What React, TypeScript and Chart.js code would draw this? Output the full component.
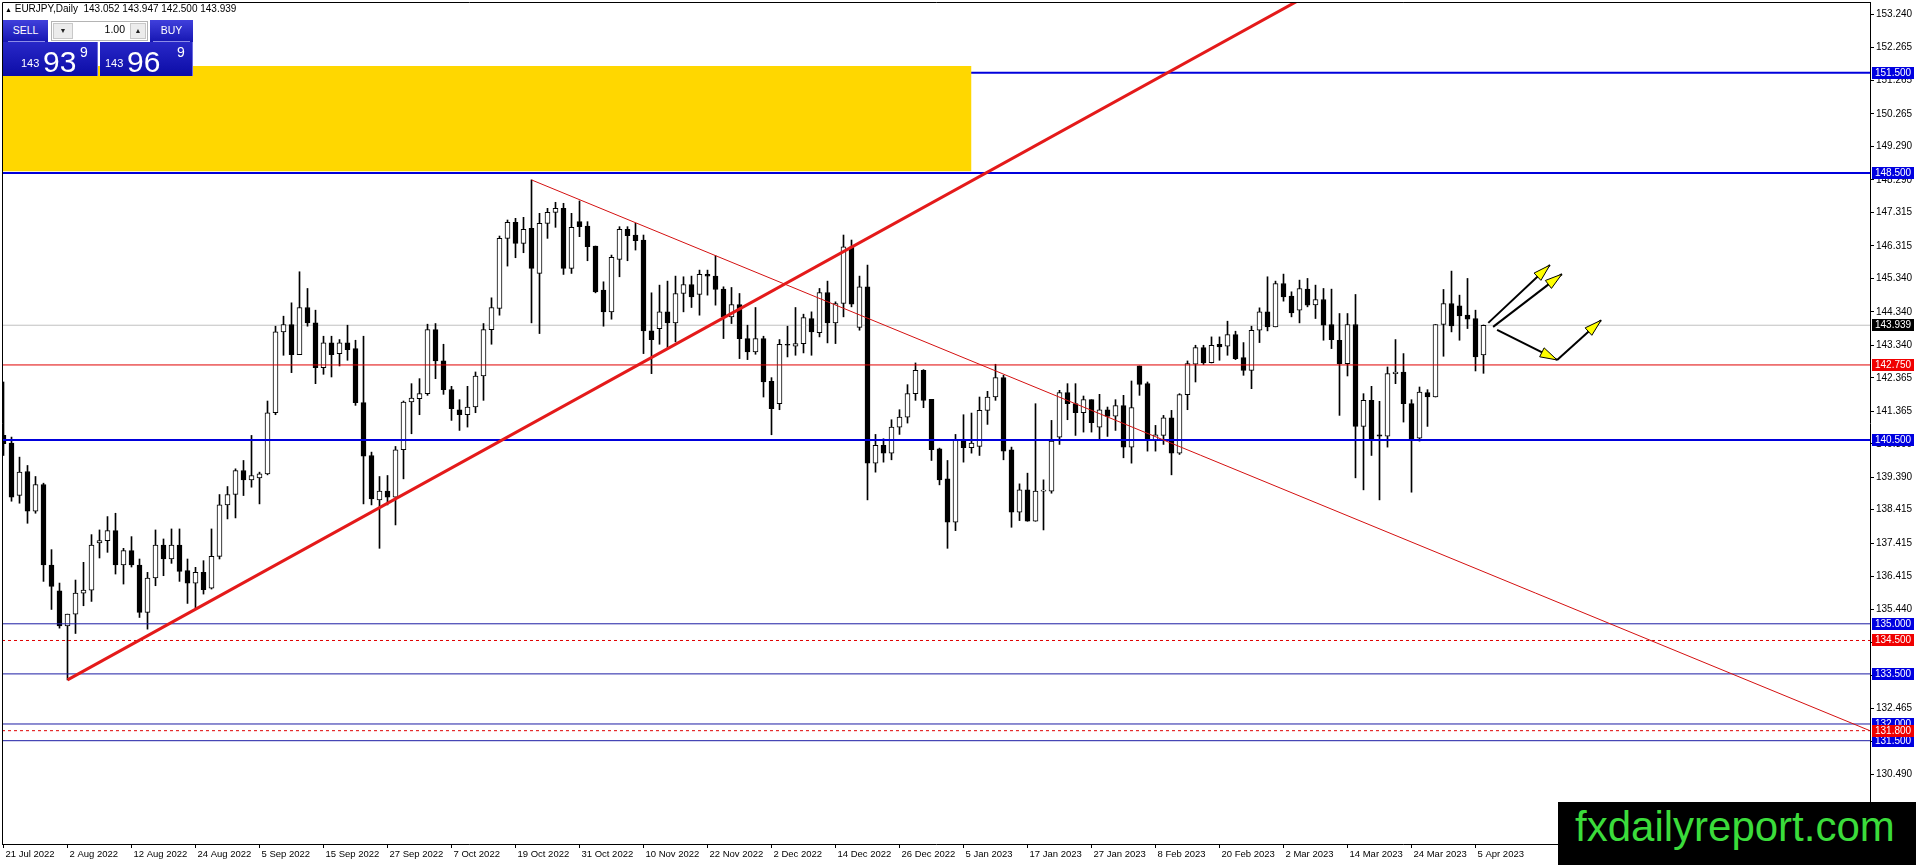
import React, { useEffect, useRef } from 'react';
import { Chart, registerables } from 'chart.js';

Chart.register(...registerables);

// EURJPY daily bars, bar index = trading day (0 = 21 Jul 2022)
const opens = [
  140.64, 140.41, 138.84, 139.56, 138.37, 139.17, 136.76, 135.99, 134.94, 135.29,
  135.92, 136.01, 137.42, 137.49, 137.79, 136.76, 137.19, 136.76, 135.34, 136.37,
  137.36, 136.94, 137.36, 136.59, 136.22, 136.54, 136.07, 137.02, 138.56, 138.87,
  139.59, 139.31, 139.37, 139.49, 141.32, 143.74, 143.96, 143.06, 144.47, 144.01,
  142.67, 143.41, 143.09, 143.41, 143.24, 141.62, 140.04, 138.71, 138.97, 138.79,
  140.21, 141.64, 141.74, 141.89, 143.81, 142.87, 142.01, 141.41, 141.26, 141.49,
  142.42, 143.81, 144.44, 146.54, 147.02, 146.39, 146.84, 145.49, 146.99, 147.32,
  147.44, 145.64, 147.04, 146.91, 146.31, 144.99, 144.34, 145.91, 146.81, 146.64,
  146.49, 143.77, 143.84, 144.34, 144.01, 144.89, 145.16, 144.86, 145.46, 145.41,
  145.02, 144.19, 144.56, 143.54, 143.14, 143.54, 142.26, 141.59, 143.37, 143.31,
  143.39, 144.14, 143.72, 144.92, 144.01, 144.59, 146.29, 143.87, 145.09, 139.81,
  140.34, 140.11, 140.89, 141.19, 141.89, 142.59, 141.72, 140.24, 139.34, 138.04,
  140.51, 140.27, 140.31, 141.39, 141.79, 142.37, 140.21, 138.34, 139.01, 138.07,
  138.97, 138.97, 140.59, 141.92, 141.59, 141.32, 141.71, 140.89, 141.41, 141.22,
  141.53, 140.29, 142.72, 142.19, 140.49, 140.64, 141.17, 140.11, 141.86, 142.77,
  143.27, 142.82, 143.37, 143.31, 143.66, 142.97, 142.59, 143.79, 144.34, 143.89,
  145.19, 144.81, 144.39, 145.02, 144.55, 144.71, 143.96, 143.49, 142.79, 143.96,
  140.91, 141.69, 140.66, 140.62, 142.49, 142.54, 141.59, 140.56, 141.92, 141.79,
  143.96, 144.59, 144.52, 144.24, 144.14, 143.052,
];
const highs = [
  142.24, 140.59, 139.99, 139.74, 139.41, 139.21, 137.22, 136.22, 135.29, 136.31,
  136.84, 137.67, 137.81, 138.21, 138.31, 137.26, 137.61, 136.94, 136.54, 137.81,
  137.54, 137.84, 137.84, 136.94, 136.69, 136.89, 137.84, 138.87, 139.11, 139.64,
  139.89, 140.64, 139.54, 141.67, 143.91, 144.21, 144.61, 145.54, 145.04, 144.39,
  143.61, 143.61, 143.51, 143.94, 143.49, 143.61, 140.14, 139.41, 139.44, 140.31,
  141.67, 142.19, 142.34, 143.97, 143.99, 143.37, 142.11, 141.71, 142.11, 142.54,
  143.99, 144.76, 146.61, 147.09, 147.14, 147.17, 148.29, 147.29, 147.44, 147.62,
  147.59, 147.29, 147.66, 147.04, 146.31, 145.24, 146.04, 146.89, 146.89, 146.99,
  146.64, 144.91, 145.14, 145.26, 145.41, 145.39, 145.41, 145.59, 145.59, 146.02,
  145.09, 145.07, 144.89, 143.94, 144.47, 143.61, 142.37, 143.51, 143.91, 144.47,
  144.27, 144.34, 145.04, 145.26, 144.64, 146.64, 146.49, 145.41, 145.74, 140.67,
  140.54, 141.11, 141.41, 142.16, 142.81, 142.61, 141.72, 140.26, 139.89, 140.67,
  141.26, 141.31, 141.79, 141.96, 142.77, 142.44, 140.29, 139.19, 139.51, 141.59,
  139.31, 141.09, 141.99, 142.19, 142.19, 141.82, 141.71, 141.87, 141.49, 141.71,
  141.84, 142.27, 142.72, 142.24, 140.94, 141.24, 141.39, 141.89, 142.87, 143.34,
  143.34, 143.59, 143.59, 144.06, 143.76, 143.42, 143.91, 144.46, 145.39, 145.26,
  145.47, 144.94, 145.29, 145.34, 145.14, 145.04, 145.02, 144.29, 144.29, 144.86,
  141.89, 142.11, 141.66, 142.69, 143.51, 143.09, 141.71, 142.09, 142.01, 143.96,
  145.01, 145.56, 144.84, 145.34, 144.39, 143.947,
];
const lows = [
  140.04, 138.67, 138.61, 138.01, 138.31, 136.27, 135.43, 134.87, 133.32, 134.71,
  135.54, 135.67, 136.97, 137.14, 136.49, 136.19, 136.70, 135.19, 134.84, 136.14,
  136.44, 136.81, 136.27, 135.61, 135.47, 135.89, 136.04, 136.94, 138.14, 138.17,
  138.84, 139.09, 138.59, 139.46, 141.26, 143.04, 142.52, 143.06, 143.91, 142.19,
  142.47, 142.39, 142.72, 142.89, 141.54, 138.59, 138.56, 137.26, 138.56, 137.96,
  139.34, 140.69, 141.26, 141.84, 142.34, 141.87, 141.09, 140.79, 140.89, 141.32,
  141.69, 143.37, 144.24, 145.71, 145.96, 146.11, 144.01, 143.69, 146.54, 146.87,
  145.46, 145.49, 146.59, 145.87, 144.91, 143.91, 144.12, 145.39, 145.87, 146.19,
  143.09, 142.49, 143.37, 143.27, 143.44, 144.34, 144.47, 144.24, 144.84, 144.54,
  143.54, 143.99, 142.94, 142.91, 143.07, 141.79, 140.66, 141.41, 142.99, 143.04,
  143.11, 143.04, 143.59, 143.41, 143.39, 144.19, 144.49, 143.79, 138.71, 139.54,
  139.84, 139.91, 140.67, 141.01, 141.69, 141.47, 139.89, 139.16, 137.26, 137.79,
  139.84, 140.11, 140.04, 140.97, 141.69, 139.91, 137.89, 138.09, 138.07, 138.07,
  137.81, 138.91, 140.37, 141.11, 140.64, 140.74, 140.74, 140.49, 140.61, 140.79,
  139.97, 139.81, 141.84, 140.17, 140.17, 140.37, 139.46, 140.07, 141.41, 142.24,
  142.76, 142.81, 142.89, 143.04, 142.91, 142.44, 142.04, 143.42, 143.77, 143.89,
  144.66, 144.19, 144.01, 144.49, 144.14, 143.49, 143.24, 141.24, 142.42, 139.37,
  139.01, 140.04, 138.71, 140.29, 142.19, 141.04, 138.94, 140.47, 140.91, 141.79,
  143.01, 143.74, 143.49, 143.84, 142.57, 142.5,
];
const closes = [
  140.39, 138.79, 139.54, 138.37, 139.17, 136.76, 136.12, 134.94, 135.29, 135.92,
  136.01, 137.36, 137.49, 137.79, 136.76, 137.19, 136.76, 135.34, 136.37, 137.36,
  136.94, 137.36, 136.57, 136.22, 136.54, 136.02, 137.02, 138.56, 138.87, 139.59,
  139.31, 139.44, 139.49, 141.32, 143.74, 143.96, 143.06, 144.47, 144.01, 142.67,
  143.41, 143.06, 143.41, 143.21, 141.62, 140.02, 138.74, 138.97, 138.79, 140.21,
  141.64, 141.76, 141.89, 143.81, 142.87, 142.01, 141.44, 141.26, 141.49, 142.42,
  143.81, 144.47, 146.54, 147.02, 146.39, 146.81, 145.64, 146.99, 147.32, 147.44,
  145.64, 146.87, 146.89, 146.29, 144.94, 144.34, 145.97, 146.81, 146.62, 146.47,
  143.77, 143.51, 144.34, 144.01, 144.89, 145.16, 144.79, 145.46, 145.41, 145.01,
  144.19, 144.56, 143.54, 143.14, 143.54, 142.24, 141.44, 143.37, 143.34, 143.39,
  144.17, 143.74, 144.92, 144.01, 144.59, 146.29, 144.57, 145.09, 139.81, 140.34,
  140.11, 140.89, 141.19, 141.89, 142.59, 141.69, 140.21, 139.31, 138.04, 140.51,
  140.27, 140.41, 141.39, 141.79, 142.37, 140.17, 138.34, 139.01, 138.07, 138.97,
  138.99, 140.47, 141.92, 141.59, 141.32, 141.71, 141.02, 141.41, 141.21, 141.53,
  140.29, 141.47, 142.17, 140.49, 140.66, 141.17, 140.11, 141.86, 142.79, 143.27,
  142.81, 143.34, 143.29, 143.66, 142.94, 142.59, 143.79, 144.34, 143.89, 145.19,
  144.79, 144.31, 145.04, 144.54, 144.71, 143.94, 143.51, 142.79, 143.96, 140.91,
  141.69, 140.54, 140.62, 142.49, 142.54, 141.59, 140.54, 141.94, 141.79, 143.96,
  144.59, 143.92, 144.22, 144.12, 142.99, 143.939,
];

const tickBars = [0, 8, 16, 24, 32, 40, 48, 56, 64, 72, 80, 88, 96, 104, 112, 120, 128, 136, 144, 152, 160, 168, 176, 184];
const tickLabels = [
  '21 Jul 2022', '2 Aug 2022', '12 Aug 2022', '24 Aug 2022', '5 Sep 2022', '15 Sep 2022',
  '27 Sep 2022', '7 Oct 2022', '19 Oct 2022', '31 Oct 2022', '10 Nov 2022', '22 Nov 2022',
  '2 Dec 2022', '14 Dec 2022', '26 Dec 2022', '5 Jan 2023', '17 Jan 2023', '27 Jan 2023',
  '8 Feb 2023', '20 Feb 2023', '2 Mar 2023', '14 Mar 2023', '24 Mar 2023', '5 Apr 2023',
];
const priceTicks = [
  153.24, 152.265, 151.265, 150.265, 149.29, 148.29, 147.315, 146.315, 145.34, 144.34,
  143.34, 142.365, 141.365, 140.39, 139.39, 138.415, 137.415, 136.415, 135.44, 134.44,
  133.465, 132.465, 131.49, 130.49, 129.515,
];

// drawn objects
const thickLevels = [151.5, 148.5, 140.5];
const thinLevels = [135.0, 133.5, 132.0, 131.5];
const redLevels = [142.75];
const dashedLevels = [134.5, 131.8];
const bidPrice = 143.939;

const zoneTop = 151.7;
const zoneBottom = 148.55;
const zoneEndBar = 121;

const upTrend = [[8, 133.32], [162, 153.68]];
const downTrend = [[66, 148.29], [233.3, 131.8]];

const arrowStarts = [[185.6, 144.01], [186.2, 143.89], [186.7, 143.8], [194.2, 142.9]];
const arrowTips = [[193.3, 145.74], [194.8, 145.47], [194.2, 142.9], [199.7, 144.09]];

const X_MIN = -0.1875;
const X_MAX = 233.3125;
const Y_MIN = 128.407;
const Y_MAX = 153.617;

const FONT = '"Liberation Sans", Arial, sans-serif';

const overlay = {
  id: 'overlay',
  afterDatasetsDraw(chart: any) {
    const { ctx, scales } = chart;
    const xs = scales.x;
    const ys = scales.y;
    ctx.save();
    arrowTips.forEach((tip, k) => {
      const x1 = xs.getPixelForValue(arrowStarts[k][0]);
      const y1 = ys.getPixelForValue(arrowStarts[k][1]);
      const x2 = xs.getPixelForValue(tip[0]);
      const y2 = ys.getPixelForValue(tip[1]);
      const a = Math.atan2(y2 - y1, x2 - x1);
      const len = 17;
      const half = 5;
      const bx = x2 - len * Math.cos(a);
      const by = y2 - len * Math.sin(a);
      ctx.beginPath();
      ctx.moveTo(x2, y2);
      ctx.lineTo(bx + half * Math.sin(a), by - half * Math.cos(a));
      ctx.lineTo(bx - half * Math.sin(a), by + half * Math.cos(a));
      ctx.closePath();
      ctx.fillStyle = '#ffff00';
      ctx.fill();
      ctx.lineWidth = 1;
      ctx.strokeStyle = '#000';
      ctx.stroke();
    });
    ctx.restore();
  },
  afterDraw(chart: any) {
    const { ctx, chartArea: area, scales } = chart;
    const ys = scales.y;
    ctx.save();
    // top and left frame
    ctx.strokeStyle = '#000';
    ctx.lineWidth = 1;
    ctx.beginPath();
    ctx.moveTo(area.left + 0.5, area.bottom);
    ctx.lineTo(area.left + 0.5, area.top + 0.5);
    ctx.lineTo(area.right, area.top + 0.5);
    ctx.stroke();

    // price tags on the right axis
    const tag = (v: number, bg: string) => {
      const py = Math.round(ys.getPixelForValue(v));
      ctx.fillStyle = bg;
      ctx.fillRect(area.right + 2, py - 6, 42, 12);
      ctx.fillStyle = '#fff';
      ctx.font = '10px ' + FONT;
      ctx.textBaseline = 'middle';
      ctx.textAlign = 'left';
      ctx.fillText(v.toFixed(3), area.right + 5, py + 0.5);
    };
    [...thickLevels, ...thinLevels].forEach((v) => tag(v, '#0000e0'));
    tag(bidPrice, '#000000');
    [...redLevels, ...dashedLevels].forEach((v) => tag(v, '#f00000'));
    ctx.restore();
  },
};

const lineSet = (pts: number[][], color: string, width: number, order: number, dash: number[] = []) => ({
  type: 'line',
  data: pts.map(([px, py]) => ({ x: px, y: py })),
  borderColor: color,
  borderWidth: width,
  borderDash: dash,
  pointRadius: 0,
  pointHoverRadius: 0,
  fill: false,
  order,
  clip: 0,
});

const across = (v: number) => [[X_MIN, v], [X_MAX, v]];

const noPadding = (axis: any) => {
  axis.paddingTop = 0;
  axis.paddingBottom = 0;
  axis.paddingLeft = 0;
  axis.paddingRight = 0;
};

const blueFill = 'linear-gradient(#4040dc, #1616b2)';

const App: React.FC = () => {
  const canvasRef = useRef<HTMLCanvasElement>(null);

  useEffect(() => {
    if (!canvasRef.current) return;
    Chart.defaults.font.family = FONT;
    Chart.defaults.color = '#000';

    const bodyData = opens.map((o, i) => ({ x: i, y: [o, closes[i]] }));
    const wickData = lows.map((l, i) => ({ x: i, y: [l, highs[i]] }));
    const bodyColors = opens.map((o, i) => (closes[i] >= o ? '#ffffff' : '#000000'));

    const chart = new Chart(canvasRef.current, {
      type: 'bar',
      data: {
        datasets: [
          ...arrowStarts.map((s, k) => lineSet([s, arrowTips[k]], '#000000', 2, 0)),
          lineSet(upTrend, '#e41a1a', 3, 1),
          lineSet(downTrend, '#d41010', 1, 1),
          {
            type: 'line',
            data: [{ x: X_MIN, y: zoneTop }, { x: zoneEndBar, y: zoneTop }],
            fill: { value: zoneBottom },
            backgroundColor: '#ffd700',
            borderColor: 'rgba(0,0,0,0)',
            borderWidth: 0,
            pointRadius: 0,
            order: 2,
            clip: 0,
          },
          ...thickLevels.map((v) => lineSet(across(v), '#0000dc', 2, 3)),
          ...thinLevels.map((v) => lineSet(across(v), '#1c1ca4', 1, 3)),
          ...redLevels.map((v) => lineSet(across(v), '#e00000', 1, 3)),
          ...dashedLevels.map((v) => lineSet(across(v), '#e00000', 1, 3, [3, 3])),
          {
            type: 'bar',
            data: bodyData,
            backgroundColor: bodyColors,
            borderColor: '#000000',
            borderWidth: 1,
            borderSkipped: false,
            barThickness: 5,
            grouped: false,
            minBarLength: 1,
            order: 4,
          },
          {
            type: 'bar',
            data: wickData,
            backgroundColor: '#000000',
            borderWidth: 0,
            barThickness: 1,
            grouped: false,
            order: 5,
          },
          lineSet(across(bidPrice), '#c0c0c0', 1, 6),
        ] as any,
      },
      options: {
        responsive: false,
        animation: false,
        layout: { padding: { left: 2, top: 2, right: 0, bottom: 0 } },
        plugins: { legend: { display: false }, tooltip: { enabled: false } },
        events: [],
        scales: {
          x: {
            type: 'linear',
            min: X_MIN,
            max: X_MAX,
            offset: false,
            afterBuildTicks: (axis: any) => {
              axis.ticks = tickBars.map((v) => ({ value: v }));
            },
            afterFit: (axis: any) => {
              axis.height = 21;
              noPadding(axis);
            },
            ticks: {
              autoSkip: false,
              maxRotation: 0,
              minRotation: 0,
              align: 'start',
              labelOffset: 2,
              padding: 1,
              font: { size: 9.5 },
              color: '#000',
              callback: (v: any) => {
                const k = tickBars.indexOf(Number(v));
                return k >= 0 ? tickLabels[k] : '';
              },
            },
            grid: { drawOnChartArea: false, drawTicks: true, tickLength: 4, color: '#000', offset: false },
            border: { display: true, color: '#000', width: 1 },
          },
          y: {
            type: 'linear',
            position: 'right',
            min: Y_MIN,
            max: Y_MAX,
            afterBuildTicks: (axis: any) => {
              axis.ticks = priceTicks.map((v) => ({ value: v }));
            },
            afterFit: (axis: any) => {
              axis.width = 46;
              noPadding(axis);
            },
            ticks: {
              padding: 2,
              font: { size: 10 },
              color: '#000',
              callback: (v: any) => Number(v).toFixed(3),
            },
            grid: { drawOnChartArea: false, drawTicks: true, tickLength: 4, color: '#000' },
            border: { display: true, color: '#000', width: 1 },
          },
        },
      } as any,
      plugins: [overlay],
    });

    return () => {
      chart.destroy();
    };
  }, []);

  const abs = (l: number, t: number, w: number, h: number): React.CSSProperties => ({
    position: 'absolute',
    left: l,
    top: t,
    width: w,
    height: h,
    boxSizing: 'border-box',
  });

  const digit = (l: number, t: number, size: number, text: string) => (
    <span style={{ position: 'absolute', left: l, top: t, fontSize: size, lineHeight: 1, color: '#fff' }}>{text}</span>
  );

  return (
    <div style={{ position: 'fixed', left: 0, top: 0, width: 1916, height: 865, background: '#fff', fontFamily: FONT, overflow: 'hidden' }}>
      <canvas ref={canvasRef} width={1916} height={865} style={{ position: 'absolute', left: 0, top: 0, width: 1916, height: 865 }} />

      <div style={{ position: 'absolute', left: 5, top: 4, fontSize: 10, lineHeight: 1, whiteSpace: 'pre', color: '#000' }}>
        <span style={{ fontSize: 7 }}>▲</span> EURJPY,Daily  143.052 143.947 142.500 143.939
      </div>

      {/* one-click trading panel */}
      <div style={{ ...abs(3, 20, 45, 22), background: blueFill, color: '#fff', fontSize: 10.5, textAlign: 'center', lineHeight: '20px' }}>
        SELL
        <div style={{ position: 'absolute', left: 5, right: 3, bottom: 0, height: 1, background: '#8c8ce8' }} />
      </div>
      <div style={{ ...abs(51, 21, 97, 20), border: '1px solid #b4b4b4', background: '#fff' }}>
        <div style={{ ...abs(1, 1, 20, 16), background: '#ececec', border: '1px solid #c8c8c8', fontSize: 7, textAlign: 'center', lineHeight: '14px', color: '#222' }}>▼</div>
        <div style={{ position: 'absolute', right: 22, top: 2, fontSize: 10.5, lineHeight: 1, color: '#000' }}>1.00</div>
        <div style={{ ...abs(78, 1, 16, 16), background: '#ececec', border: '1px solid #c8c8c8', fontSize: 7, textAlign: 'center', lineHeight: '14px', color: '#222' }}>▲</div>
      </div>
      <div style={{ ...abs(150, 20, 43, 22), background: blueFill, color: '#fff', fontSize: 10.5, textAlign: 'center', lineHeight: '20px' }}>
        BUY
        <div style={{ position: 'absolute', left: 3, right: 3, bottom: 0, height: 1, background: '#8c8ce8' }} />
      </div>
      <div style={{ ...abs(3, 42, 95, 34), background: 'linear-gradient(#2828c8, #0c0ca6)', borderRight: '1px solid #6a6ae0' }} />
      <div style={{ ...abs(100, 42, 93, 34), background: 'linear-gradient(#2828c8, #0c0ca6)', borderRight: '1px solid #6a6ae0' }} />
      {digit(21, 57.5, 11, '143')}
      {digit(43, 46.5, 30, '93')}
      {digit(80, 45, 14, '9')}
      {digit(105, 57.5, 11, '143')}
      {digit(127, 46.5, 30, '96')}
      {digit(177, 45, 14, '9')}

      {/* watermark */}
      <div style={{ ...abs(1558, 802, 358, 63), background: '#000', color: '#3bdc3b', fontSize: 42, lineHeight: '50px', paddingLeft: 17, whiteSpace: 'nowrap' }}>
        fxdailyreport.com
      </div>
    </div>
  );
};

export default App;
